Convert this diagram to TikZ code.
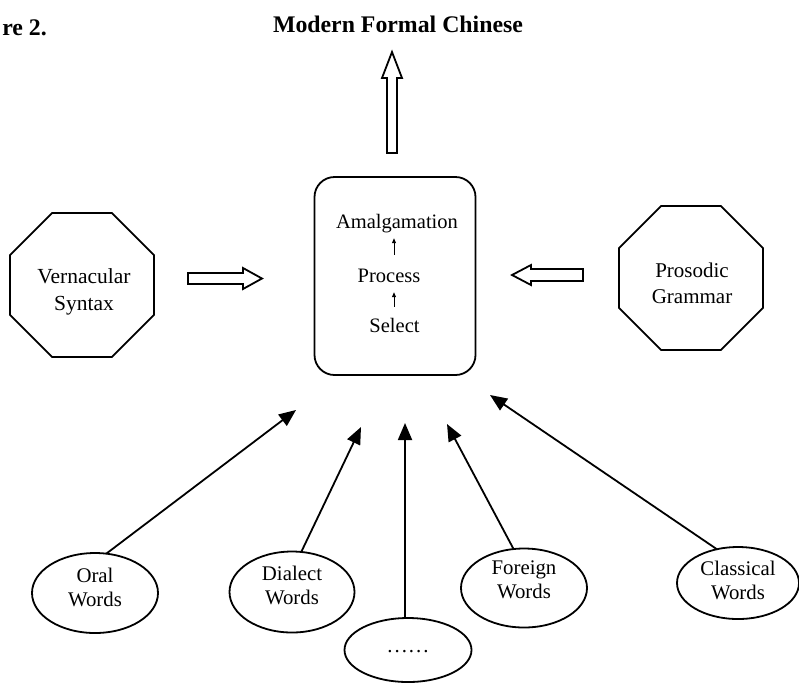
\documentclass[tikz,border=0pt]{standalone}
\usepackage{fontspec}
\setmainfont{Liberation Serif}
\usetikzlibrary{shapes.geometric,arrows.meta}
\begin{document}
\begin{tikzpicture}[x=1pt,y=-1pt,
  lw/.style={line width=1.8pt},
  oct/.style={draw,lw,regular polygon,regular polygon sides=8,minimum size=156pt,inner sep=0pt,outer sep=0pt},
  ell/.style={draw,lw,ellipse,inner sep=0pt,outer sep=0pt},
  txt/.style={align=center,inner sep=0pt,font=\fontsize{20.8}{24}\selectfont},
  boxtxt/.style={inner sep=0pt,text height=14pt,text depth=5pt,font=\fontsize{20.5}{24}\selectfont},
  ttl/.style={inner sep=0pt,font=\bfseries\fontsize{23.8}{28}\selectfont},
  hollow/.style={draw,lw,line join=miter,fill=white},
  feed/.style={lw,-{Triangle[length=17pt,width=14pt]}},
  small/.style={line width=0.8pt,-{Triangle[length=5pt,width=4pt]}}
]
\useasboundingbox (0,0) rectangle (799,689);

% titles
\node[ttl,anchor=base east] (fig) at (47,35) {re 2.};
\node[ttl,anchor=base] (title) at (398,32) {Modern Formal Chinese};

% central box
\node[draw,lw,rounded corners=20pt,minimum width=161pt,minimum height=198pt,inner sep=0pt,outer sep=0pt] (box) at (395,276) {};
\node[boxtxt,anchor=base] (amal) at (397,228) {Amalgamation};
\node[boxtxt,anchor=base] (proc) at (389,282) {Process};
\node[boxtxt,anchor=base] (sel) at (394.5,332) {Select};
\coordinate (ax) at (394,0);
\draw[small,shorten <=11pt,shorten >=5pt] (sel.north -| ax) -- (proc.south -| ax);
\draw[small,shorten <=13pt,shorten >=5pt] (proc.north -| ax) -- (amal.south -| ax);

% octagons
\node[oct] (vern) at (82,285) {};
\node[txt,font=\fontsize{21.5}{27}\selectfont] (verntxt) at (84,292) {Vernacular\\Syntax};
\node[oct] (pros) at (691,278) {};
\node[txt,font=\fontsize{21}{26}\selectfont] (prostxt) at (692,283) {Prosodic\\Grammar};

% hollow arrows
\draw[hollow] (188,273) -- (243,273) -- (243,268) -- (262,278.5) -- (243,289) -- (243,284) -- (188,284) -- cycle;
\draw[hollow] (583,269) -- (531,269) -- (531,265) -- (512,275) -- (531,285) -- (531,281) -- (583,281) -- cycle;
\draw[hollow] (387,153) -- (387,78) -- (382,78) -- (392,52) -- (402,78) -- (397,78) -- (397,153) -- cycle;

% ellipses
\node[ell,minimum width=126pt,minimum height=80pt] (oral) at (95,593) {};
\node[txt] at (95,587) {Oral\\Words};
\node[ell,minimum width=125pt,minimum height=81pt] (dial) at (292,592) {};
\node[txt] at (292,585) {Dialect\\Words};
\node[ell,minimum width=127pt,minimum height=64pt] (dots) at (408,650) {};
\node[txt,anchor=base] at (408,652) {.\kern2pt.\kern2pt.\kern2pt.\kern2pt.\kern2pt.};
\node[ell,minimum width=126pt,minimum height=79pt] (forg) at (524,588) {};
\node[txt] at (524,580) {Foreign\\Words};
\node[ell,minimum width=122pt,minimum height=72pt] (clas) at (738,583) {};
\node[txt] at (738,580) {Classical\\Words};

% feeding arrows
\coordinate (tO) at (296,410);
\coordinate (tD) at (361,427);
\coordinate (tM) at (405,423);
\coordinate (tF) at (447,424);
\coordinate (tC) at (490,395);
\draw[feed] (oral.74) -- (tO);
\draw[feed] (dial.77) -- (tD);
\draw[feed] (dots.north -| tM) -- (tM);
\draw[feed] (forg.105) -- (tF);
\draw[feed] (clas.122) -- (tC);
\end{tikzpicture}
\end{document}
